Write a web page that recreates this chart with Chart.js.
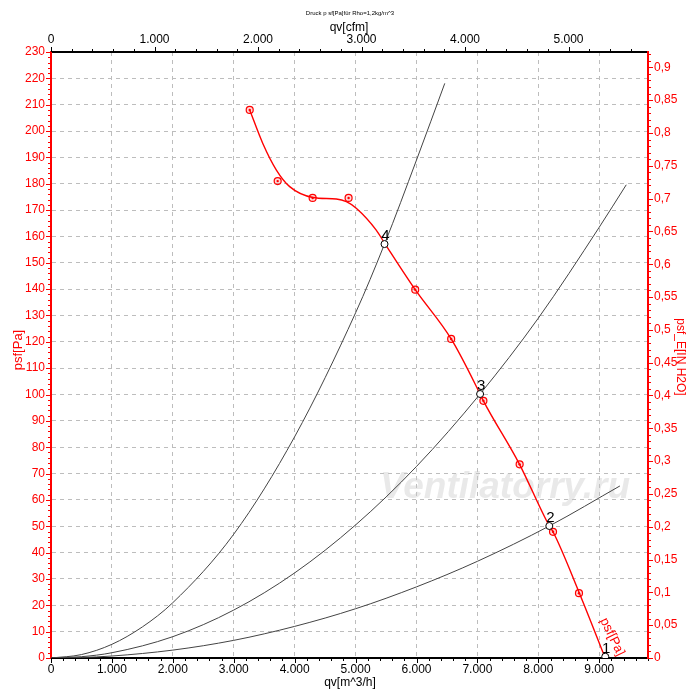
<!DOCTYPE html>
<html>
<head>
<meta charset="utf-8">
<script src="https://cdn.jsdelivr.net/npm/chart.js@4"></script>
<style>
  html, body { margin: 0; padding: 0; background: #fff; }
  #wrap { width: 700px; height: 700px; }
</style>
</head>
<body>
<div id="wrap"><canvas id="chart" width="700" height="700"></canvas></div>
<script>
// fan curve psf [Pa] over qv [m^3/h]
const redQ = [3262, 3475, 3700, 3918, 4300, 4684, 4848, 5011, 5339, 5475, 5979, 6569, 7044, 7098, 7689, 8180, 8241, 8672, 9098];
const redP = [208, 195.4, 185.2, 178.9, 174.8, 174.2, 173.2, 170.7, 162.4, 157.5, 139.8, 121.1, 100.2, 97.6, 73.6, 50.1, 47.9, 24.7, 0];

// measured points on the fan curve
const markQ = [3262, 3721, 4295, 4885, 5979, 6569, 7098, 7693, 8241, 8667];
const markP = [208, 181, 174.6, 174.6, 139.8, 121.1, 97.6, 73.5, 47.9, 24.6];

// system curves
const sys4Q = [0, 500, 1000, 1500, 2000, 3000, 4000, 5000, 5475, 6000, 6464];
const sys4P = [0, 1.3, 5.2, 11.8, 21, 47, 84, 131, 157.1, 189, 218.1];
const sys3Q = [0, 500, 1000, 2000, 3000, 4000, 5000, 6000, 7044, 8000, 9000, 9443];
const sys3P = [0, 0.5, 2, 8.1, 18.2, 32.3, 50.5, 72.7, 100.2, 129, 163.5, 179.6];
const sys2Q = [0, 500, 1000, 2000, 3000, 4000, 5000, 6000, 7000, 8180, 9339];
const sys2P = [0, 0.2, 0.75, 3, 6.7, 12, 18.7, 27, 36.7, 50.1, 65.3];

// operating points 1..4
const opLabels = ['1', '2', '3', '4'];
const opQ = [9098, 8180, 7044, 5475];
const opP = [0.5, 50.1, 100.2, 157.1];

// tick values
const qTicks = [0, 1000, 2000, 3000, 4000, 5000, 6000, 7000, 8000, 9000];
const cfmTicks = [0, 1000, 2000, 3000, 4000, 5000];

const Q_MAX = 9800;           // m^3/h
const P_MAX = 230;            // Pa
const CFM = 1.69901;          // m^3/h per cfm
const PA_PER_INH2O = 249.09;

const RED = '#ff0000';
const pts = (xs, ys) => xs.map((x, i) => ({ x: x, y: ys[i] }));

function fmtThousand(v) {
    if (v === 0) return '0';
    return (v / 1000).toFixed(3);
}
function fmtComma(v) {
    return String(parseFloat(v.toFixed(2))).replace('.', ',');
}

Chart.defaults.font.family = '"Liberation Sans", Arial, sans-serif';
Chart.defaults.font.size = 12;

// minor / major tick marks, titles, labels and watermark
const decor = {
    id: 'decor',
    beforeDatasetsDraw(chart) {
        const ctx = chart.ctx;
        const a = chart.chartArea;
        ctx.save();
        ctx.font = 'italic bold 37px "Liberation Sans", Arial, sans-serif';
        ctx.fillStyle = 'rgba(200,200,200,0.4)';
        ctx.textAlign = 'center';
        ctx.textBaseline = 'middle';
        ctx.fillText('Ventilatorry.ru', a.left + 454, a.top + 436);
        ctx.restore();
    },
    afterDatasetsDraw(chart) {
        const ctx = chart.ctx;
        const s = chart.scales;
        const a = chart.chartArea;
        ctx.save();
        ctx.lineWidth = 1;

        // bottom axis ticks
        ctx.strokeStyle = '#000';
        for (let v = 0; v <= Q_MAX; v += 200) {
            const x = Math.round(s.x.getPixelForValue(v)) + 0.5;
            const len = v % 1000 === 0 ? 5 : 3;
            ctx.beginPath(); ctx.moveTo(x, a.bottom); ctx.lineTo(x, a.bottom + len); ctx.stroke();
        }
        // top axis ticks
        for (let v = 0; v <= Q_MAX / CFM; v += 200) {
            const x = Math.round(s.xTop.getPixelForValue(v)) + 0.5;
            const len = v % 1000 === 0 ? 5 : 3;
            ctx.beginPath(); ctx.moveTo(x, a.top); ctx.lineTo(x, a.top - len); ctx.stroke();
        }
        // left axis ticks
        ctx.strokeStyle = RED;
        for (let v = 0; v <= P_MAX; v += 2) {
            const y = Math.round(s.y.getPixelForValue(v)) + 0.5;
            const len = v % 10 === 0 ? 5 : 3;
            ctx.beginPath(); ctx.moveTo(a.left, y); ctx.lineTo(a.left - len, y); ctx.stroke();
        }
        // right axis ticks
        for (let i = 0; i <= 92; i++) {
            const y = Math.round(s.yR.getPixelForValue(i / 100)) + 0.5;
            const len = i % 5 === 0 ? 5 : 3;
            ctx.beginPath(); ctx.moveTo(a.right, y); ctx.lineTo(a.right + len, y); ctx.stroke();
        }

        // operating point numbers
        ctx.fillStyle = '#000';
        ctx.font = '15px "Liberation Sans", Arial, sans-serif';
        ctx.textAlign = 'center';
        ctx.textBaseline = 'middle';
        opLabels.forEach((t, i) => {
            const x = s.x.getPixelForValue(opQ[i]);
            const y = s.y.getPixelForValue(opP[i]);
            ctx.fillText(t, x + 1, y - 8);
        });

        // curve label along the fan curve
        ctx.save();
        ctx.fillStyle = RED;
        ctx.font = '13px "Liberation Sans", Arial, sans-serif';
        ctx.translate(s.x.getPixelForValue(8900) + 19, s.y.getPixelForValue(8));
        ctx.rotate(64 * Math.PI / 180);
        ctx.fillText('psf[Pa]', 0, 0);
        ctx.restore();

        // titles
        ctx.fillStyle = '#000';
        ctx.font = '6px "Liberation Sans", Arial, sans-serif';
        ctx.fillText('Druck p sf[Pa]für Rho=1,2kg/m^3', 350, 13);
        ctx.font = '12px "Liberation Sans", Arial, sans-serif';
        ctx.fillText('qv[cfm]', 349, 28);
        ctx.fillText('qv[m^3/h]', 350, 683);

        ctx.fillStyle = RED;
        ctx.save();
        ctx.translate(18, 350);
        ctx.rotate(-Math.PI / 2);
        ctx.font = '13px "Liberation Sans", Arial, sans-serif';
        ctx.fillText('psf[Pa]', 0, 0);
        ctx.restore();
        ctx.save();
        ctx.translate(680, 357);
        ctx.rotate(Math.PI / 2);
        ctx.font = '12px "Liberation Sans", Arial, sans-serif';
        ctx.fillText('psf_E[IN H2O]', 0, 0);
        ctx.restore();

        ctx.restore();
    }
};

const gridDash = [4, 4];
const setTicks = vals => sc => { sc.ticks = vals.map(v => ({ value: v })); };

new Chart(document.getElementById('chart'), {
    type: 'line',
    data: {
        datasets: [
            {
                data: pts(redQ, redP),
                borderColor: RED, borderWidth: 1.4,
                pointRadius: 0, cubicInterpolationMode: 'monotone', order: 3
            },
            {
                data: pts(sys4Q, sys4P),
                borderColor: '#444', borderWidth: 1,
                pointRadius: 0, cubicInterpolationMode: 'monotone', order: 4
            },
            {
                data: pts(sys3Q, sys3P),
                borderColor: '#444', borderWidth: 1,
                pointRadius: 0, cubicInterpolationMode: 'monotone', order: 4
            },
            {
                data: pts(sys2Q, sys2P),
                borderColor: '#444', borderWidth: 1,
                pointRadius: 0, cubicInterpolationMode: 'monotone', order: 4
            },
            {
                data: pts(markQ, markP), showLine: false,
                pointRadius: 3.5, pointBorderWidth: 1.2,
                pointBorderColor: RED, pointBackgroundColor: 'rgba(255,0,0,0.15)', order: 2
            },
            {
                data: pts(markQ, markP), showLine: false,
                pointRadius: 1.2, pointBorderWidth: 0,
                pointBackgroundColor: RED, order: 2
            },
            {
                data: pts(opQ, opP), showLine: false,
                pointRadius: 3.5, pointBorderWidth: 1,
                pointBorderColor: '#000', pointBackgroundColor: '#fff', order: 1
            }
        ]
    },
    options: {
        responsive: false,
        animation: false,
        events: [],
        layout: { padding: 0 },
        plugins: { legend: { display: false }, tooltip: { enabled: false } },
        scales: {
            x: {
                type: 'linear', position: 'bottom', min: 0, max: Q_MAX,
                afterFit: sc => { sc.height = 42; },
                afterBuildTicks: setTicks(qTicks),
                ticks: { autoSkip: false, maxRotation: 0,
                         padding: 4, color: '#000', callback: fmtThousand },
                grid: { color: '#bdbdbd', drawTicks: false },
                border: { color: '#000', width: 2, dash: gridDash }
            },
            xTop: {
                type: 'linear', position: 'top', min: 0, max: Q_MAX / CFM,
                afterFit: sc => { sc.height = 52; },
                afterBuildTicks: setTicks(cfmTicks),
                ticks: { autoSkip: false, maxRotation: 0,
                         padding: 5, color: '#000', callback: fmtThousand },
                grid: { drawOnChartArea: false, drawTicks: false },
                border: { color: '#000', width: 2 }
            },
            y: {
                type: 'linear', position: 'left', min: 0, max: P_MAX,
                afterFit: sc => { sc.width = 51; },
                ticks: { stepSize: 10, autoSkip: false, padding: 6, color: RED },
                grid: { color: '#bdbdbd', drawTicks: false },
                border: { color: RED, width: 2, dash: gridDash }
            },
            yR: {
                type: 'linear', position: 'right', min: 0, max: P_MAX / PA_PER_INH2O,
                afterFit: sc => { sc.width = 52; },
                ticks: { stepSize: 0.05, includeBounds: false, autoSkip: false, padding: 6,
                         color: RED, callback: fmtComma },
                grid: { drawOnChartArea: false, drawTicks: false },
                border: { color: RED, width: 2 }
            }
        }
    },
    plugins: [decor]
});
</script>
</body>
</html>
